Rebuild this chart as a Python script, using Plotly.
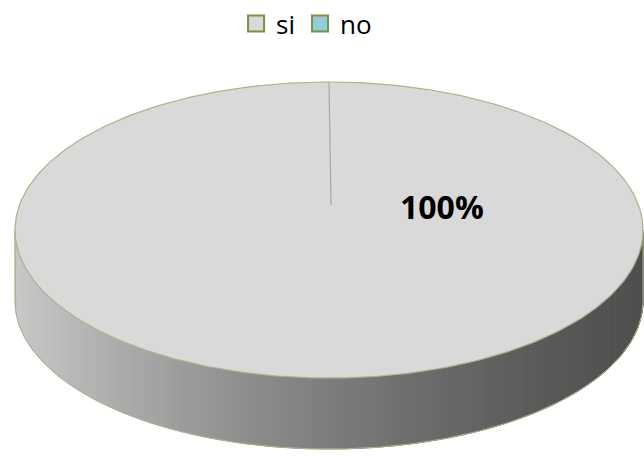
import numpy as np
import plotly.graph_objects as go

# Survey answers
categories = ["si", "no"]
values = [100, 0]
fill_colors = ["#d9d9d9", "#92cddc"]

# Drawing geometry of the tilted disc (pixel-like data units)
CX, CY = 329.0, 230.0      # centre of the top ellipse
RX, RY = 314.0, 148.0      # semi-axes of the top ellipse
HUB = (331.0, 205.0)       # projected pie centre on the top face
DEPTH = 71.0               # thickness of the disc
EDGE = "#aeb28a"
W, H = 644, 456


def top_point(theta):
    return CX + RX * np.cos(theta), CY - RY * np.sin(theta)


def side_shade(x):
    t = (x - (CX - RX)) / (2 * RX)
    c = int(round(200 - 178 * t + 56 * t * t))
    return f"rgb({c},{c},{c})"


fig = go.Figure()

total = float(sum(values))
start = np.pi / 2  # first slice begins at 12 o'clock, going clockwise
slices = []
for name, v, col in zip(categories, values, fill_colors):
    frac = v / total
    if frac <= 0:
        continue
    a0, a1 = start, start - 2 * np.pi * frac
    slices.append((name, a0, a1, col))
    start = a1

# Side wall: only the front half (angles between pi and 2pi) is visible
for name, a0, a1, col in slices:
    lo, hi = min(a0, a1), max(a0, a1)
    for k in range(-1, 2):
        s0 = max(lo, np.pi + 2 * np.pi * k)
        s1 = min(hi, 2 * np.pi + 2 * np.pi * k)
        if s1 <= s0:
            continue
        n = 120
        edges = np.linspace(s0, s1, n + 1)
        for i in range(n):
            t0, t1 = edges[i], edges[i + 1]
            x0, y0 = top_point(t0)
            x1, y1 = top_point(t1)
            shade = side_shade((x0 + x1) / 2)
            fig.add_trace(go.Scatter(
                x=[x0, x1, x1, x0, x0], y=[y0, y1, y1 + DEPTH, y0 + DEPTH, y0],
                mode="lines", fill="toself", fillcolor=shade,
                line=dict(color=shade, width=1), hoverinfo="skip",
                showlegend=False))
        # outline of the bottom rim and vertical edges
        th = np.linspace(s0, s1, 200)
        bx, by = top_point(th)
        fig.add_trace(go.Scatter(
            x=np.concatenate([[bx[0]], bx, [bx[-1]]]),
            y=np.concatenate([[by[0]], by + DEPTH, [by[-1]]]),
            mode="lines", line=dict(color=EDGE, width=1),
            hoverinfo="skip", showlegend=False))

# Top faces of the slices
for name, a0, a1, col in slices:
    th = np.linspace(a0, a1, 400)
    px, py = top_point(th)
    fig.add_trace(go.Scatter(
        x=np.concatenate([[HUB[0]], px, [HUB[0]]]),
        y=np.concatenate([[HUB[1]], py, [HUB[1]]]),
        mode="lines", fill="toself", fillcolor=col,
        line=dict(color=col, width=0), hoverinfo="skip", showlegend=False))
    # rim of the top face
    fig.add_trace(go.Scatter(x=px, y=py, mode="lines",
                             line=dict(color=EDGE, width=1.2),
                             hoverinfo="skip", showlegend=False))
    # radial boundary line
    sx, sy = top_point(a0)
    fig.add_trace(go.Scatter(x=[sx, HUB[0]], y=[sy, HUB[1]], mode="lines",
                             line=dict(color="#a6a6a6", width=1.2),
                             hoverinfo="skip", showlegend=False))

# Legend entries
for name, col in zip(categories, fill_colors):
    fig.add_trace(go.Scatter(
        x=[None], y=[None], mode="markers", name=name,
        marker=dict(symbol="square", size=16, color=col,
                    line=dict(color="#77933c", width=2))))

# Percentage label of the main slice
fig.add_annotation(x=442, y=206, xref="x", yref="y",
                   text=f"<b>{values[0] / total * 100:.0f}%</b>",
                   showarrow=False,
                   font=dict(family="Open Sans", size=32, color="#000000"))

fig.update_layout(
    width=W, height=H,
    margin=dict(l=0, r=0, t=0, b=0),
    paper_bgcolor="white", plot_bgcolor="white",
    xaxis=dict(range=[0, W], visible=False, fixedrange=True),
    yaxis=dict(range=[H, 0], visible=False, fixedrange=True),
    showlegend=True,
    legend=dict(orientation="h", x=0.476, xanchor="center", y=1.0,
                yanchor="top", font=dict(family="Open Sans", size=26,
                                         color="#000000"),
                itemclick=False, itemdoubleclick=False,
                bgcolor="rgba(0,0,0,0)", tracegroupgap=0),
)

fig.write_html("out.html")
